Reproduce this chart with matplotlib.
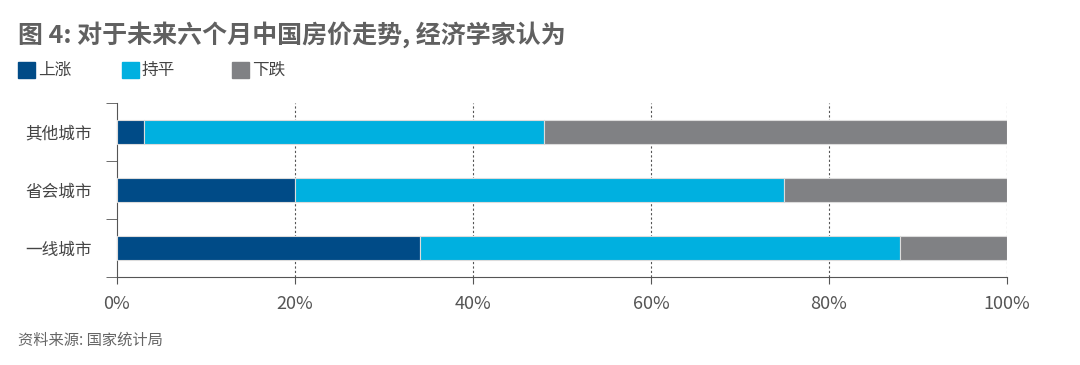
import matplotlib.pyplot as plt
from matplotlib.patches import Rectangle
import numpy as np

plt.rcParams['font.family'] = ['Noto Sans CJK SC', 'DejaVu Sans']

# data (percent)
cities = ['一线城市', '省会城市', '其他城市']
series_names = ['上涨', '持平', '下跌']
up = [34, 20, 3]
flat = [54, 55, 45]
down = [12, 25, 52]
colors = ['#004b87', '#00b0e0', '#808184']

title = '图 4: 对于未来六个月中国房价走势, 经济学家认为'
source = '资料来源: 国家统计局'

fig = plt.figure(figsize=(10.8, 3.65), dpi=100)
ax = fig.add_axes([0.1083, 0.2411, 0.8241, 0.4767])

y = np.arange(len(cities))
left = np.zeros(len(cities))
for vals, c in zip([up, flat, down], colors):
    ax.barh(y, vals, left=left, height=0.4, color=c,
            edgecolor='#dcdcdc', linewidth=0.8, zorder=3)
    left += np.array(vals)

ax.set_xlim(0, 100)
ax.set_ylim(-0.5, len(cities) - 0.5)
ax.set_xticks(range(0, 101, 20))
ax.set_xticklabels([f'{v}%' for v in range(0, 101, 20)],
                   fontsize=13, color='#555555')
ax.set_yticks(y)
ax.set_yticklabels(cities, fontsize=12, color='#444444')
ax.set_yticks(np.arange(-0.5, len(cities)), minor=True)
ax.tick_params(axis='y', which='major', length=0, pad=18)
ax.tick_params(axis='y', which='minor', length=8, color='#555555')
ax.tick_params(axis='x', length=5, color='#555555', pad=8)

for s in ['top', 'right']:
    ax.spines[s].set_visible(False)
ax.spines['left'].set_color('#555555')
ax.spines['bottom'].set_color('#555555')

for xv in range(20, 101, 20):
    ax.axvline(xv, color='#555555', linestyle=(0, (2, 2)),
               linewidth=0.8, zorder=1)

fig.text(0.017, 0.905, title, fontsize=18, fontweight='bold',
         color='#606060', va='center')

# legend
leg_x = [0.017, 0.113, 0.215]
for lx, name, c in zip(leg_x, series_names, colors):
    fig.patches.append(Rectangle((lx, 0.787), 0.0157, 0.043,
                                 transform=fig.transFigure, color=c))
    fig.text(lx + 0.018, 0.808, name, fontsize=12, color='#444444',
             va='center')

fig.text(0.017, 0.068, source, fontsize=11, color='#666666',
         va='center', style='italic')

fig.savefig('out.png', dpi=100, facecolor='white')
